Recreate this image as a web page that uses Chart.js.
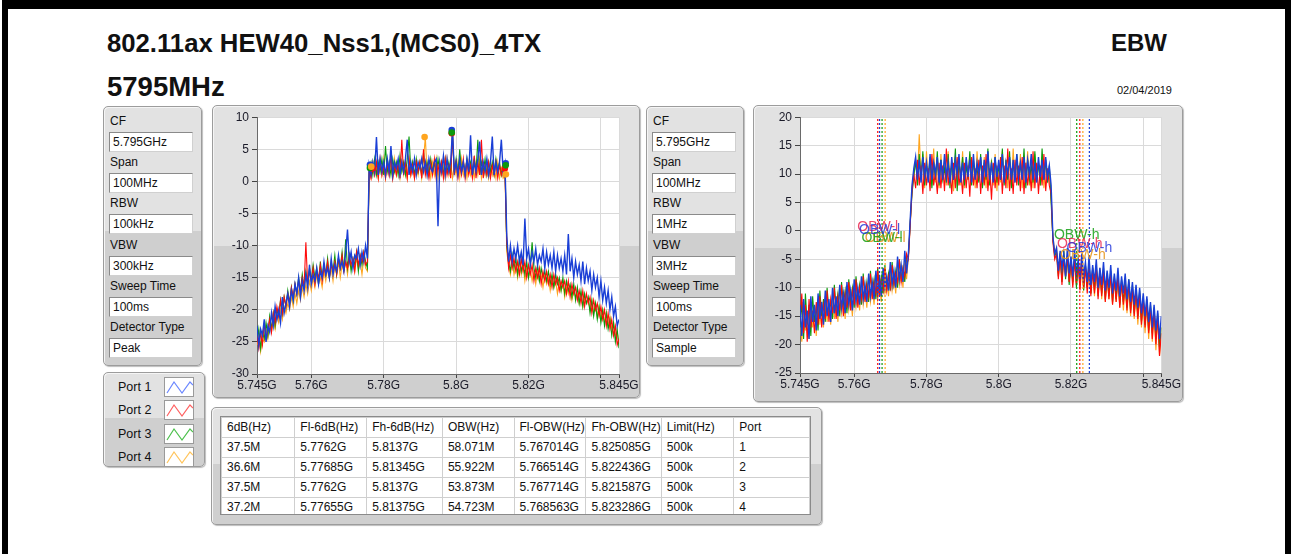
<!DOCTYPE html>
<html><head><meta charset="utf-8">
<script src="https://cdn.jsdelivr.net/npm/chart.js@4.4.1/dist/chart.umd.min.js"></script>
<style>
html,body{margin:0;padding:0;background:#fff;width:1292px;height:554px;overflow:hidden;font-family:"Liberation Sans",Arial,sans-serif;}
.bar{position:absolute;background:#000;}
.ttl{position:absolute;font-weight:bold;color:#111;white-space:nowrap;line-height:1;}
.panel{position:absolute;box-sizing:border-box;border:1px solid #9c9c9c;border-radius:5px;
 background:linear-gradient(#e2e2e2 0,#e2e2e2 48%,#cfcfcf 48%,#cfcfcf 100%);
 box-shadow:1px 1px 1px #bdbdbd, inset 1px 1px 0 #f5f5f5;}
.lbl{position:absolute;font-size:12px;color:#111;line-height:14px;white-space:nowrap;}
.fld{position:absolute;box-sizing:border-box;background:#fff;border:1px solid #8a8a8a;border-right-color:#d0d0d0;border-bottom-color:#d0d0d0;font-size:12px;line-height:18px;padding-left:3px;color:#111;white-space:nowrap;}
.lgbox{position:absolute;box-sizing:border-box;width:30px;height:20px;background:#fff;border:1px solid #9a9a9a;}
canvas{position:absolute;}
#tblwrap{position:absolute;left:220px;top:416px;width:591px;height:99px;overflow:hidden;background:#fff;border:1px solid #8a8a8a;box-sizing:border-box;}
#tbl{border-collapse:collapse;table-layout:fixed;font-size:12px;color:#111;}
#tbl td{border:1px solid #cfcfcf;height:19px;padding:0 0 0 5px;white-space:nowrap;overflow:hidden;line-height:19px;}
</style></head>
<body>
<div class="bar" style="left:2px;top:0;width:1289px;height:9px"></div>
<div class="bar" style="left:2px;top:0;width:6px;height:554px"></div>
<div class="bar" style="left:1285px;top:0;width:6px;height:554px"></div>

<div class="ttl" style="left:107px;top:31px;font-size:25.7px">802.11ax HEW40_Nss1,(MCS0)_4TX</div>
<div class="ttl" style="left:107px;top:73px;font-size:27.5px">5795MHz</div>
<div class="ttl" style="right:125px;top:31px;font-size:24px">EBW</div>
<div class="ttl" style="right:120px;top:85px;font-size:11px;font-weight:normal">02/04/2019</div>

<div class="panel" id="set1" style="left:103px;top:106px;width:99px;height:260px"></div>
<div class="panel" style="left:212px;top:105px;width:428px;height:293px"></div>
<div class="panel" id="set2" style="left:646px;top:106px;width:98px;height:260px"></div>
<div class="panel" style="left:753px;top:105px;width:430px;height:297px"></div>
<div class="panel" id="legend" style="left:103px;top:372px;width:102px;height:95px"></div>
<div class="panel" style="left:211px;top:407px;width:611px;height:118px"></div>
<div id="tblwrap"><table id="tbl"></table></div>

<canvas id="c1" width="426" height="289" style="left:214px;top:107px;width:426px;height:289px"></canvas>
<canvas id="c2" width="426" height="293" style="left:755px;top:107px;width:426px;height:293px"></canvas>

<script>
// ---------- DATA ----------
const ports = ['Port 1','Port 2','Port 3','Port 4'];
const portColors = ['#1a3fd6','#ff0a0a','#0c9a0c','#ffa51e'];
const legendColors = ['#6a86ff','#ff6060','#4cc04c','#ffc45a'];

const settingLabels = ['CF','Span','RBW','VBW','Sweep Time','Detector Type'];
const settings1 = ['5.795GHz','100MHz','100kHz','300kHz','100ms','Peak'];
const settings2 = ['5.795GHz','100MHz','1MHz','3MHz','100ms','Sample'];

const tableHeaders = ['6dB(Hz)','Fl-6dB(Hz)','Fh-6dB(Hz)','OBW(Hz)','Fl-OBW(Hz)','Fh-OBW(Hz)','Limit(Hz)','Port'];
const bw6dB = [37.5, 36.6, 37.5, 37.2];          // MHz
const fl6dB = [5.7762, 5.77685, 5.7762, 5.77655]; // GHz
const fh6dB = [5.8137, 5.81345, 5.8137, 5.81375]; // GHz
const obwMHz = [58.071, 55.922, 53.873, 54.723];
const flOBW = [5.767014, 5.766514, 5.767714, 5.768563];
const fhOBW = [5.825085, 5.822436, 5.821587, 5.823286];
const limitHz = ['500k','500k','500k','500k'];
const portNo = [1, 2, 3, 4];

const xTickVals = [5.745, 5.76, 5.78, 5.8, 5.82, 5.84, 5.845];
const xTickLabels = ['5.745G','5.76G','5.78G','5.8G','5.82G','','5.845G'];
const yTicks1 = [-30,-25,-20,-15,-10,-5,0,5,10];
const yTicks2 = [-25,-20,-15,-10,-5,0,5,10,15,20];

// sweep grid: 5.745 GHz .. 5.845 GHz, 0.5 MHz per point (201 points)
const freqStart = 5.745, freqStep = 0.0005, nPts = 201;

// Chart 1 (Peak detector, RBW 100 kHz), dBm
const peak1 = [
 -22.5,-25.5,-23,-24,-21.5,-25,-22.5,-23.5,-20.5,-22.5,
 -19.5,-21.5,-20,-22,-18,-20.5,-19,-17.5,-19.5,-17,
 -18.5,-16,-17.5,-15,-18,-15.5,-17,-14.5,-16.5,-13,
 -16,-14.5,-15.5,-13.5,-16,-14,-15,-12.5,-14.5,-13.5,
 -15,-12,-14.5,-13,-14,-11.5,-13.5,-12.5,-14,-11,
 -7.5,-12.5,-11,-13.5,-11.5,-12,-10.5,-13,-11,-12.5,
 -10,-12,
 2.5,1,3,1.5,6.9,1,3.5,1.5,
 3,1,3.5,1.5,5.5,1,3,2,3.5,1,
 3,1.5,3.5,6.5,1,3,1.5,3.5,1,3,
 2,3.5,1.5,3,1,3.5,2,1.5,3,3.5,
 -7,3,1.5,4,1,3.5,1.5,3,8,1.5,
 3,1,3.5,1.5,3,1,3.5,1.5,7.2,1,
 3,1.5,3.5,6.2,1,3,1.5,3.5,1,3,
 7,1,3,1.5,3,6.5,1.5,2.8,
 -8.5,-12.5,
 -10,-12.5,-10.5,-12,-10,-12.5,-11,-13,-5.8,-12,
 -10.5,-13,-11,-12.5,-10.5,-13,-11.5,-12.5,-10.5,-13.5,
 -11,-13,-11.5,-13.5,-11,-14,-11.5,-13.5,-12,-14,
 -11.5,-14.5,-8.2,-14,-12,-15,-12.5,-14.5,-13,-15.5,
 -12.5,-16,-13.5,-15.5,-14,-17,-14.5,-16.5,-15,-18,
 -15.5,-18.5,-16.5,-19,-17,-20,-18,-21,-19.5,-22.5,
 -21.5];
const peak2 = [
 -24,-26,-23.5,-25.5,-22,-24.5,-23,-21.5,-23.5,-20.5,
 -22,-19.5,-21,-18.5,-20.5,-18,-19.5,-17.5,-19,-16.5,
 -18,-16,-17.5,-15.5,-17,-15,-16.5,-9.5,-16,-14,
 -15.5,-13.5,-16,-14,-15,-13,-15.5,-13.5,-14.5,-12.5,
 -15,-13,-14,-12.5,-14.5,-12,-13.5,-11.5,-14,-12.5,
 -13.5,-11.5,-13,-12,-14,-11,-13,-11.5,-12.5,-11,
 -13,-12.5,
 2,0.5,2.5,1,3,0.5,3.5,1,
 2.5,0.5,3,1,4,0.5,2.5,1,3,0.5,
 6.5,1,3,0.5,3.5,1,2.5,0.5,3,1.5,
 3,0.5,5,1,2.5,0.5,3,1,3.5,0.5,
 2.5,1,3,0.5,3.5,1,2.5,0.5,7.5,1,
 3,0.5,2.5,1,3.5,0.5,3,1,2.5,0.5,
 4,0.5,3,1,6.5,0.5,2.5,1,3,0.5,
 2.5,1,3,0.5,2.5,1,2,1.5,
 -9.5,-13.5,
 -11.5,-13.5,-12,-14,-12.5,-14.5,-12,-14,-12.5,-15,
 -13,-14.5,-13,-15.5,-13.5,-15,-13.5,-16,-14,-15.5,
 -14,-16,-14.5,-16.5,-14.5,-16,-15,-17,-15.5,-16.5,
 -15.5,-17.5,-15.5,-18,-16,-17.5,-16.5,-18.5,-17,-19,
 -17,-19.5,-17.5,-19,-18,-20.5,-18.5,-20,-19,-21,
 -19.5,-21.5,-20,-22.5,-20.5,-23,-21.5,-24,-22.5,-25.5,
 -24.5];
const peak3 = [
 -25,-23,-26,-23.5,-24.5,-22,-24,-21,-23,-20.5,
 -22.5,-20,-21,-18.5,-20.5,-18,-19.5,-17,-19,-16.5,
 -18.5,-16,-17.5,-15,-17,-14.5,-16.5,-14,-16,-13.5,
 -15.5,-13,-15,-13.5,-16,-12.5,-15,-13,-14.5,-12,
 -15,-12.5,-14,-11.5,-14.5,-12,-13.5,-11,-14,-9,
 -13.5,-11.5,-14,-12,-13,-11,-14,-11.5,-13,-11,
 -12.5,-13.5,
 2,3,1,3.5,1,3,1.5,3.5,
 1,5.5,1.5,3,1,3.5,1.5,3,1,4,
 1.5,3,1,3.5,7,1.5,3,1,3.5,1.5,
 3,1,4.5,1.5,3,1,3.5,1.5,3,1,
 3.5,1.5,3,1,3.5,1.5,3,1,7.6,1.5,
 3.5,1,5,1.5,3,1,3.5,1.5,3,1,
 3.5,1.5,6.5,1,3,1.5,3.5,1,3,1.5,
 3,1,3.5,1.5,3,1,2.5,2.5,
 -10,-12.5,
 -14,-11.5,-13.5,-12,-14.5,-12,-14,-12.5,-14.5,-12.5,
 -15,-13,-9.5,-13.5,-15,-13,-15.5,-13.5,-15,-14,
 -15.5,-14,-16,-14.5,-16.5,-14.5,-16,-15,-17,-15,
 -17.5,-15.5,-17,-16,-18,-16,-18.5,-16.5,-19,-17,
 -19.5,-17.5,-19,-18,-20.5,-18.5,-21,-19,-21.5,-19.5,
 -22,-20,-22.5,-20.5,-23,-21.5,-24,-22,-25,-23,
 -26];
const peak4 = [
 -25.5,-24,-26.5,-24.5,-25,-23,-24.5,-22.5,-23.5,-21.5,
 -23,-21,-22,-20,-21.5,-19.5,-20.5,-19,-20,-18,
 -19.5,-17.5,-19,-17,-18.5,-16.5,-18,-16,-17.5,-15.5,
 -17,-15,-16.5,-14.5,-16,-15,-16.5,-14,-15.5,-13.5,
 -15,-13.5,-15.5,-13,-14.5,-12.5,-15,-13,-14,-12.5,
 -14.5,-12,-13.5,-12.5,-14,-12,-13.5,-12.5,-14.5,-12,
 -13.5,-14,
 1.5,0.5,3,1,2.5,0.5,3,1,
 3.5,0.5,2.5,1,3,0.5,3.5,1,2.5,0.5,
 3,1,2.5,0.5,3.5,1,3,0.5,2.5,1,
 3,0.5,3.5,6.9,1,2.5,0.5,3,1,3.5,
 0.5,3,1,2.5,0.5,3.5,1,3,0.5,2.5,
 1,3,0.5,3.5,1,2.5,0.5,3,1,2.5,
 0.5,3,1,3.5,0.5,2.5,1,3,0.5,2.5,
 1,2.5,0.5,3,0.5,2,0.5,1,
 -11,-13,
 -14.5,-12.5,-14.5,-13,-15,-12.5,-14.5,-13,-15.5,-13.5,
 -15,-13.5,-15.5,-14,-16,-14,-15.5,-14.5,-16.5,-14.5,
 -16,-15,-17,-15,-16.5,-15.5,-17.5,-15.5,-17,-16,
 -18,-16,-17.5,-16.5,-18.5,-17,-18,-17.5,-19,-17.5,
 -19.5,-18,-19,-18.5,-20,-18.5,-20.5,-19,-21,-19.5,
 -21.5,-20,-22,-20.5,-22.5,-21,-23,-22,-24,-23.5,
 -25];

// 6 dB edge markers and peak markers (chart 1)
const mark6dBLowY = [2.6, 2.0, 2.1, 2.3];
const mark6dBHighY = [2.8, 2.0, 2.5, 1.1];
const peakMarkF = [5.7988, 5.7988, 5.7988, 5.7913];
const peakMarkY = [8.0, 7.5, 7.6, 6.9];

// Chart 2 (Sample detector, RBW 1 MHz), dBm
const samp1 = [
 -13,-18.5,-12,-17,-14,-19,-11.5,-16,-13,-17.5,
 -11,-15.5,-12.5,-16.5,-10.5,-15,-12,-16,-10,-14.5,
 -11.5,-15,-9.5,-13.5,-11,-14.5,-9,-13,-10.5,-14,
 -8.5,-12.5,-10,-13,-8,-12,-9.5,-12.5,-7.5,-11.5,
 -9,-12,-7,-11,-8.5,-11.5,-6.5,-10,-8,-10.5,
 -5.5,-9.5,-7,-10,-4.5,-8.5,-6,-9,-3.5,-7.5,
 -4,2,8,
 11,13,9,12.5,8.5,13,9.5,
 12,8.5,13.5,9,12,10,13,8.5,12.5,9,
 13.5,9.5,12,8.5,13,9,12.5,10,13.5,8.5,
 12,9,13,9.5,12.5,8.5,13.5,9,12,10,
 13,8.5,12.5,9.5,14,9,12,8.5,13,9.5,
 12.5,9,13.5,8.5,12,10,13,9,12.5,8.5,
 13.5,9.5,12,9,13,8.5,12.5,10,13.5,9,
 12,8.5,13,9.5,12.5,9,13,9.5,11.5,8,
 -1,-4,
 -3,-7,-3.5,-6.5,-4,-8,-3,-7.5,
 -4.5,-8,-3.5,-7.5,-5,-8.5,-4,-8,-5.5,-9,
 -4.5,-9.5,-6,-9,-5,-10,-6.5,-9.5,-5.5,-10.5,
 -7,-10,-6,-11,-7.5,-10.5,-6.5,-11.5,-8,-11,
 -7.5,-12,-8.5,-12.5,-9,-13,-9.5,-13.5,-10,-14.5,
 -11,-15,-11.5,-16,-12.5,-17,-13,-17.5,-14,-19,
 -15];
const samp2 = [
 -16,-11,-18,-13,-19.5,-12,-17,-14,-18,-12.5,
 -16.5,-11.5,-17,-13,-15.5,-10.5,-16,-12,-14.5,-10,
 -15.5,-11.5,-14,-9.5,-15,-11,-13.5,-9,-14,-10.5,
 -13,-8.5,-13.5,-10,-12,-8,-12.5,-9.5,-11.5,-7.5,
 -12,-9,-11,-7,-11.5,-8.5,-10.5,-6.5,-10.5,-8,
 -10,-6,-9.5,-7.5,-9,-5,-9,-6.5,-8,-4,
 -5,1,7,
 10,7.5,12.5,8,11.5,6.5,12,
 8,11,7,13.5,8,10.5,6.5,12,7.5,11.5,
 7,14.5,8,11,6.5,12,7.5,13,8,10.5,
 6.5,12,7.5,11.5,6,13,8,11,7.5,12.5,
 6.5,11.5,8,13.5,7,11,5.5,12,7.5,11.5,
 8,13,6.5,11.5,7.5,14.5,7,11,6.5,12.5,
 8,11.5,7,13,6.5,12,8,11,7,14,
 7.5,12,6.5,11.5,8,13.5,7,11,8,6.5,
 -2,-5,
 -4,-8.5,-4.5,-9.5,-5,-8,-4.5,-9,
 -5.5,-10,-5,-9.5,-6,-10.5,-5.5,-10,-6.5,-11,
 -6,-11.5,-7,-11,-6.5,-12,-7.5,-11.5,-7,-12.5,
 -8,-12,-7.5,-13,-8.5,-12.5,-8,-13.5,-9,-13,
 -9.5,-14,-9,-14.5,-10,-15,-10.5,-15.5,-11,-16.5,
 -12,-17,-12.5,-18,-13.5,-19,-14,-20,-15,-22,
 -18];
const samp3 = [
 -17,-12.5,-19,-11,-16.5,-13,-18.5,-11.5,-16,-13.5,
 -17.5,-10.5,-15,-12,-16,-10,-14,-12.5,-15.5,-9.5,
 -13.5,-11,-15,-9,-13,-10.5,-14.5,-8.5,-12.5,-10,
 -13.5,-8,-12,-9.5,-13,-7.5,-11.5,-9,-12.5,-7,
 -11,-8.5,-12,-6.5,-10.5,-8,-11,-6,-10,-7.5,
 -10.5,-5.5,-9.5,-7,-10,-5,-8.5,-6.5,-9,-4.5,
 -4.5,1.5,6.5,
 9.5,12.5,8,13.5,9,14,8,
 11.5,9.5,13,7.5,12,9,14,8,12.5,9,
 11,8.5,13.5,7.5,12,9,14.5,7,12,9.5,
 13,8,11.5,9,14,8,12.5,9.5,11,8.5,
 13.5,7.5,12,9,14.5,8,12,9.5,13,8.5,
 11.5,9,14.5,8,12.5,9,14,7.5,12,9.5,
 13.5,8,12,9,14.5,7.5,12.5,9,11.5,8.5,
 14,9,12,8,14.5,9,12.5,8.5,11.5,5,
 -1.5,-4.5,
 -3.5,-8,-4,-9,-3.5,-8.5,-4.5,-9.5,
 -5,-9,-4.5,-10,-5.5,-9.5,-5,-10.5,-6,-10,
 -5.5,-11,-6.5,-10.5,-6,-11.5,-7,-11,-6.5,-12,
 -7.5,-11.5,-7,-12.5,-8,-12,-7.5,-13,-8.5,-12.5,
 -9,-13.5,-8.5,-14,-9.5,-14.5,-10,-15,-10.5,-16,
 -11.5,-16.5,-12,-17.5,-13,-18,-13.5,-19,-14.5,-20.5,
 -17];
const samp4 = [
 -14.5,-19.5,-13,-17.5,-15,-19,-12.5,-17,-14,-18.5,
 -12,-16.5,-13.5,-17,-11.5,-16,-13,-16.5,-11,-15.5,
 -12.5,-16,-10.5,-14.5,-12,-15.5,-10,-14,-11.5,-15,
 -9.5,-13.5,-11,-14,-9,-13,-10.5,-13.5,-8.5,-12.5,
 -10,-13,-8,-12,-9.5,-12.5,-7.5,-11,-9,-11.5,
 -6.5,-10.5,-8,-11,-5.5,-9.5,-7,-10,-4.5,-8.5,
 -4.5,1,7.5,
 10.5,12,9,17,9.5,13.5,7.5,
 14,9,12.5,8,14.5,8.5,12,7.5,13.5,9,
 12.5,8,14,8.5,12.5,7,13,9,12,8,
 14,7.5,12.5,9,13.5,8.5,12,7.5,14,9,
 12.5,8,13,7.5,14,9,12.5,8,13.5,7,
 12,8.5,14,9,12.5,7.5,13,8,14.5,8.5,
 12,9,13.5,7.5,12.5,8.5,14,8,12,7.5,
 13.5,9,12,8,13,7.5,12.5,9,11,6,
 -1,-4,
 -3,-7.5,-4,-8.5,-3.5,-8,-4.5,-9,
 -4.5,-9.5,-5,-9,-5.5,-10,-5,-10.5,-6,-10,
 -6,-11,-6.5,-11.5,-7,-11,-6.5,-12,-7.5,-12.5,
 -7.5,-12,-8,-13,-8.5,-12.5,-8,-13.5,-9,-14,
 -9.5,-14.5,-10,-15,-10.5,-15.5,-11,-16.5,-11.5,-17,
 -12.5,-18,-13,-19,-14,-19.5,-14.5,-21,-15.5,-22,
 -17];

// OBW label heights (dBm) on chart 2
const obwLowLabelY = [0.2, 0.6, -1.2, -1.3];
const obwHighLabelY = [-3.1, -2.3, -0.8, -4.3];

// ---------- PANELS ----------
function buildSettings(id, values){
  const p = document.getElementById(id);
  settingLabels.forEach((lab,k)=>{
    const top = 25 + k*41.2;
    const l = document.createElement('div'); l.className='lbl'; l.textContent=lab;
    l.style.left='6px'; l.style.top=(top-18)+'px'; p.appendChild(l);
    const f = document.createElement('div'); f.className='fld'; f.textContent=values[k];
    f.style.left='5px'; f.style.top=top+'px'; f.style.width='84px'; f.style.height='20px'; p.appendChild(f);
  });
}
buildSettings('set1', settings1);
buildSettings('set2', settings2);

const lg = document.getElementById('legend');
ports.forEach((name,k)=>{
  const top = 4 + k*23.3;
  const l = document.createElement('div'); l.className='lbl'; l.textContent=name;
  l.style.left='14px'; l.style.top=(top+3)+'px'; l.style.fontSize='12.5px'; lg.appendChild(l);
  const b = document.createElement('div'); b.className='lgbox'; b.style.left='60px'; b.style.top=top+'px';
  b.innerHTML='<svg width="28" height="18" style="position:absolute;left:0;top:0"><polyline points="2,15 9,4 17,15 25,4 28,7" fill="none" stroke="'+legendColors[k]+'" stroke-width="1.2"/></svg>';
  lg.appendChild(b);
});

// ---------- TABLE ----------
const colW = [74,72,76,72,72,73,73,77];
const tbl = document.getElementById('tbl');
const cg = document.createElement('colgroup');
colW.forEach(w=>{const c=document.createElement('col'); c.style.width=w+'px'; cg.appendChild(c);});
tbl.appendChild(cg);
const rows = [tableHeaders];
for(let i=0;i<4;i++) rows.push([bw6dB[i]+'M', fl6dB[i]+'G', fh6dB[i]+'G', obwMHz[i].toFixed(3)+'M', flOBW[i].toFixed(6)+'G', fhOBW[i].toFixed(6)+'G', limitHz[i], String(portNo[i])]);
rows.push(['','','','','','','','']);
rows.forEach(r=>{
  const tr=document.createElement('tr');
  r.forEach(t=>{const td=document.createElement('td'); td.textContent=t; tr.appendChild(td);});
  tbl.appendChild(tr);
});

// ---------- CHARTS ----------
const FONT = '"Liberation Sans", Arial, sans-serif';
const freqs = Array.from({length:nPts},(_,i)=>+(freqStart+i*freqStep).toFixed(4));
function spec(vals, color, order, w){
  return {type:'line', data: vals.map((v,i)=>({x:freqs[i], y:v})), borderColor: color, borderWidth: w,
          pointRadius: 0, fill: false, tension: 0, order: order};
}
const plotBg = {id:'plotBg', beforeDraw(c){const a=c.chartArea,x=c.ctx; x.save(); x.fillStyle='#fff'; x.fillRect(a.left,a.top,a.right-a.left,a.bottom-a.top); x.restore();}};

function axes(yMin,yMax,yTicks,yW,xH){
  return {
    x:{type:'linear', min:freqStart, max:xTickVals[xTickVals.length-1],
       afterBuildTicks:s=>{s.ticks = xTickVals.map(v=>({value:v}));},
       afterFit:s=>{s.height=xH;},
       ticks:{autoSkip:false, maxRotation:0, padding:0, color:'#1a1a28', font:{family:FONT,size:12},
              callback:(v,i)=>xTickLabels[i]},
       grid:{color:'#dadada', tickColor:'#444', tickLength:4},
       border:{color:'#6a6a6a', width:1}},
    y:{type:'linear', min:yMin, max:yMax,
       afterBuildTicks:s=>{s.ticks = yTicks.map(v=>({value:v}));},
       afterFit:s=>{s.width=yW;},
       ticks:{autoSkip:false, padding:3, color:'#1a1a28', font:{family:FONT,size:12}, callback:v=>String(v)},
       grid:{color:'#dadada', tickColor:'#444', tickLength:5},
       border:{color:'#6a6a6a', width:1}}
  };
}
const common = {responsive:false, animation:false, devicePixelRatio:1,
  plugins:{legend:{display:false}, tooltip:{enabled:false}},
  elements:{line:{borderJoinStyle:'miter'}}};

// chart 1
const markerData = [];
for(let k=0;k<4;k++){
  markerData.push({type:'line', showLine:false, order:0,
    data:[{x:fl6dB[k],y:mark6dBLowY[k]},{x:fh6dB[k],y:mark6dBHighY[k]},{x:peakMarkF[k],y:peakMarkY[k]}],
    pointRadius:3.3, pointBackgroundColor:portColors[k], pointBorderColor:portColors[k], pointBorderWidth:0});
}
new Chart(document.getElementById('c1'), {
  type:'line',
  data:{datasets:[spec(peak1,portColors[0],1,1.4), spec(peak2,portColors[1],2,1.1), spec(peak3,portColors[2],3,1.1), spec(peak4,portColors[3],4,1.1)].concat(markerData.reverse())},
  options:Object.assign({}, common, {layout:{padding:{top:8,right:21,left:0,bottom:0}}, scales:axes(-30,10,yTicks1,43,22)}),
  plugins:[plotBg]
});

// chart 2
const obwDs = [];
for(let k=0;k<4;k++){
  obwDs.push({type:'line', order:0, borderColor:portColors[k], borderWidth:1.2, borderDash:[2,2], pointRadius:0,
    data:[{x:flOBW[k],y:yTicks2[0]},{x:flOBW[k],y:yTicks2[yTicks2.length-1]}]});
  obwDs.push({type:'line', order:0, borderColor:portColors[k], borderWidth:1.2, borderDash:[2,2], pointRadius:0,
    data:[{x:fhOBW[k],y:yTicks2[0]},{x:fhOBW[k],y:yTicks2[yTicks2.length-1]}]});
}
const obwLabels = {id:'obwLabels', afterDatasetsDraw(c){
  const x=c.ctx, sx=c.scales.x, sy=c.scales.y;
  x.save(); x.font='14px '+FONT; x.textAlign='center'; x.textBaseline='middle';
  const txtCol = ['rgba(40,60,220,0.85)','rgba(235,40,80,0.85)','rgba(20,160,20,0.85)','rgba(230,150,30,0.9)'];
  [3,2,1,0].forEach(k=>{
    x.fillStyle = txtCol[k];
    x.fillText('OBW-l', sx.getPixelForValue(flOBW[k]), sy.getPixelForValue(obwLowLabelY[k]));
    x.fillText('OBW-h', sx.getPixelForValue(fhOBW[k]), sy.getPixelForValue(obwHighLabelY[k]));
  });
  x.restore();
}};
new Chart(document.getElementById('c2'), {
  type:'line',
  data:{datasets:obwDs.concat([spec(samp1,portColors[0],1,1.4), spec(samp2,portColors[1],2,1.1), spec(samp3,portColors[2],3,1.1), spec(samp4,portColors[3],4,1.1)])},
  options:Object.assign({}, common, {layout:{padding:{top:9,right:19,left:0,bottom:0}}, scales:axes(-25,20,yTicks2,45,27)}),
  plugins:[plotBg, obwLabels]
});
</script>
</body></html>
